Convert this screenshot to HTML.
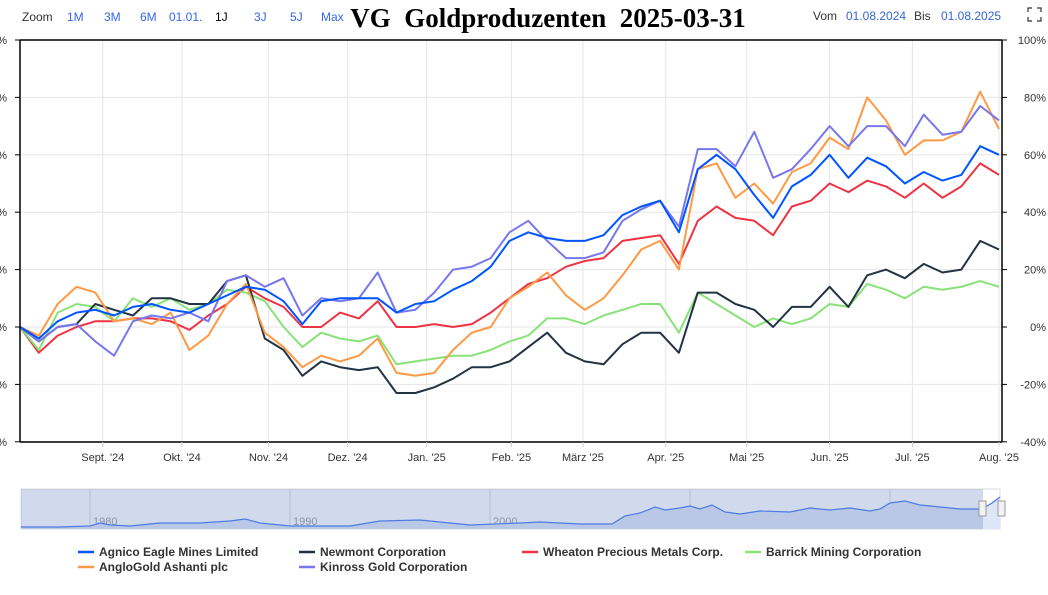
<!DOCTYPE html>
<html><head><meta charset="utf-8">
<style>
html,body{margin:0;padding:0;background:#fff;}
body{width:1048px;height:590px;overflow:hidden;position:relative;font-family:"Liberation Sans",sans-serif;}
svg text{font-family:"Liberation Sans",sans-serif;}
</style></head>
<body>
<svg id="chart" width="1048" height="590" xmlns="http://www.w3.org/2000/svg">
  <g id="toolbar">
    <text x="22" y="21" font-size="12" fill="#333">Zoom</text>
    <text x="67" y="21" font-size="12" fill="#3366ee">1M</text>
    <text x="104" y="21" font-size="12" fill="#3366ee">3M</text>
    <text x="140" y="21" font-size="12" fill="#3366ee">6M</text>
    <text x="169" y="21" font-size="12" fill="#3366ee">01.01.</text>
    <text x="215" y="21" font-size="12" fill="#000">1J</text>
    <text x="254" y="21" font-size="12" fill="#3366ee">3J</text>
    <text x="290" y="21" font-size="12" fill="#3366ee">5J</text>
    <text x="321" y="21" font-size="12" fill="#3366ee">Max</text>
    <text x="548" y="27" font-size="27" font-weight="bold" text-anchor="middle" fill="#000" style="font-family:'Liberation Serif',serif;">VG&#160;&#160;Goldproduzenten&#160;&#160;2025-03-31</text>
    <text x="813" y="20" font-size="12" fill="#333">Vom</text>
    <text x="846" y="20" font-size="12" fill="#3366cc">01.08.2024</text>
    <text x="914" y="20" font-size="12" fill="#333">Bis</text>
    <text x="941" y="20" font-size="12" fill="#3366cc">01.08.2025</text>
    <g stroke="#333" stroke-width="1.2" fill="none">
      <path d="M1028 12 V8 H1032 M1037 8 H1041 V12 M1041 17 V21 H1037 M1032 21 H1028 V17"/>
    </g>
  </g>
  <g id="grid"></g>
  <g id="series"></g>
  <g id="axes"></g>
  <g id="nav"></g>
  <g id="legend"></g>
</svg>
<script>
// ---- data ----
var weeks = [];
for (var w = 0; w <= 52; w++) weeks.push(w);
var agnico   = [0,-4,2,5,6,4,7,8,6,5,8,11,14,13,9,1,9,10,10,10,5,8,9,13,16,21,30,33,31,30,30,32,39,42,44,33,55,60,55,46,38,49,53,60,52,59,56,50,54,51,53,63,60];
var newmont  = [0,-5,0,1,8,6,4,10,10,8,8,16,18,-4,-8,-17,-12,-14,-15,-14,-23,-23,-21,-18,-14,-14,-12,-7,-2,-9,-12,-13,-6,-2,-2,-9,12,12,8,6,0,7,7,14,7,18,20,17,22,19,20,30,27];
var wheaton  = [0,-9,-3,0,2,2,3,3,2,-1,4,8,14,10,7,0,0,5,3,9,0,0,1,0,1,5,10,15,17,21,23,24,30,31,32,22,37,42,38,37,32,42,44,50,47,51,49,45,50,45,49,57,53];
var barrick  = [0,-8,5,8,7,2,10,7,10,6,8,13,12,9,0,-7,-2,-4,-5,-3,-13,-12,-11,-10,-10,-8,-5,-3,3,3,1,4,6,8,8,-2,12,8,4,0,3,1,3,8,7,15,13,10,14,13,14,16,14];
var anglogold= [0,-3,8,14,12,2,3,1,5,-8,-3,8,15,-2,-7,-14,-10,-12,-10,-4,-16,-17,-16,-8,-2,0,10,14,19,11,6,10,18,27,30,20,55,57,45,50,43,54,57,66,62,80,72,60,65,65,68,82,69];
var kinross  = [0,-5,0,1,-5,-10,2,4,3,5,2,16,18,14,17,4,10,9,10,19,5,6,12,20,21,24,33,37,30,24,24,26,37,41,44,35,62,62,56,68,52,55,62,70,63,70,70,63,74,67,68,77,72];
var seriesNames = ["Agnico Eagle Mines Limited","Newmont Corporation","Wheaton Precious Metals Corp.","Barrick Mining Corporation","AngloGold Ashanti plc","Kinross Gold Corporation"];
var yTicks = [100,80,60,40,20,0,-20,-40];
var monthLabels = ["Sept. '24","Okt. '24","Nov. '24","Dez. '24","Jan. '25","Feb. '25","März '25","Apr. '25","Mai '25","Jun. '25","Jul. '25","Aug. '25"];
var monthWeeks = [4.4,8.6,13.2,17.4,21.6,26.1,29.9,34.3,38.6,43.0,47.4,52];
var navYears = ["1980","1990","2000","2010","2020"];
var navYearPos = [1980,1990,2000,2010,2020];

var NS = "http://www.w3.org/2000/svg";
var L = 20, R = 1002, T = 40, B = 442;
function x(w){ return 20 + w * (979/52); }
function y(v){ return 327 - v * (287/100); }
function el(tag, attrs, parent){ var e = document.createElementNS(NS, tag); for (var k in attrs) e.setAttribute(k, attrs[k]); parent.appendChild(e); return e; }

var grid = document.getElementById('grid');
yTicks.forEach(function(t){
  var ln = el('line', {x1:L, x2:R, y1:y(t), y2:y(t), stroke:'#e6e6e6', 'stroke-width':1}, grid);
  
  
});
monthWeeks.forEach(function(m){
  var ln = el('line', {x1:x(m), x2:x(m), y1:T, y2:B, stroke:'#e6e6e6', 'stroke-width':1}, grid);
  
  
});

var sg = document.getElementById('series');
var data = [wheaton, barrick, newmont, anglogold, kinross, agnico];
var colors = ['#ee3344','#88e277','#223344','#ff9944','#7777ee','#0055ff'];
var snames = ['wheaton-line','barrick-line','newmont-line','anglogold-line','kinross-line','agnico-line'];
data.forEach(function(arr, i){
  var d = arr.map(function(v, j){ return (j ? 'L' : 'M') + x(weeks[j]).toFixed(1) + ' ' + y(v).toFixed(1); }).join(' ');
  var p = el('path', {d:d, fill:'none', stroke:colors[i], 'stroke-width':2, 'stroke-linejoin':'round'}, sg);
  
  
});

var ax = document.getElementById('axes');
el('line', {x1:L, x2:R, y1:T, y2:T, stroke:'#000', 'stroke-width':1.5}, ax);
el('line', {x1:L, x2:L, y1:T, y2:B, stroke:'#000', 'stroke-width':1.5}, ax);
el('line', {x1:R, x2:R, y1:T, y2:B, stroke:'#000', 'stroke-width':1.5}, ax);
el('line', {x1:L, x2:R, y1:B, y2:B, stroke:'#000', 'stroke-width':1.5}, ax);
yTicks.forEach(function(t){
  var tx = el('text', {x:1046, y:y(t)+4, 'font-size':11, 'text-anchor':'end', fill:'#333'}, ax);
  tx.textContent = t + '%';
  
  
  var tl = el('text', {x:7, y:y(t)+4, 'font-size':11, 'text-anchor':'end', fill:'#333'}, ax);
  tl.textContent = t + '%';
  
  
  el('line', {x1:L-5, x2:L, y1:y(t), y2:y(t), stroke:'#000'}, ax);
  el('line', {x1:R, x2:R+5, y1:y(t), y2:y(t), stroke:'#000'}, ax);
});
monthWeeks.forEach(function(m, i){
  el('line', {x1:x(m), x2:x(m), y1:B, y2:B+5, stroke:'#ccc'}, ax);
  var tx = el('text', {x:x(m), y:461, 'font-size':11, 'text-anchor':'middle', fill:'#333'}, ax);
  tx.textContent = monthLabels[i];
  
  
});

// navigator
var nav = document.getElementById('nav');
var NX0 = 21, NX1 = 1000, NY0 = 489, NY1 = 529;
function yearX(yr){ return 90 + (yr - 1980) * 20; }
el('rect', {x:NX0, y:NY0, width:NX1-NX0, height:NY1-NY0, fill:'#fff', stroke:'#ddd'}, nav);
navYearPos.forEach(function(yr, i){
  el('line', {x1:yearX(yr), x2:yearX(yr), y1:NY0, y2:NY1, stroke:'#d8d8d8'}, nav);
  var tx = el('text', {x:yearX(yr)+3, y:525, 'font-size':11, fill:'#999'}, nav);
  tx.textContent = navYears[i];
  
  
});
var navPts = [[21,527],[60,527],[90,526],[100,523],[110,525],[130,526],[160,523],[200,523],[230,521],[245,519],[260,523],[290,526],[350,526],[380,521],[420,520],[470,525],[520,523],[540,522],[580,524],[612,524],[625,516],[640,513],[655,507],[665,510],[680,508],[690,506],[700,509],[712,505],[725,512],[740,514],[760,511],[790,512],[810,508],[830,510],[850,508],[870,511],[880,509],[890,503],[905,501],[920,505],[940,507],[960,509],[982,509],[992,503],[1000,497]];
var nd = navPts.map(function(p,i){return (i?'L':'M')+p[0]+' '+p[1];}).join(' ');
el('path', {d:nd+' L1000 529 L21 529 Z', fill:'#dde6f7', stroke:'none'}, nav);
el('path', {d:nd, fill:'none', stroke:'#4477ee', 'stroke-width':1.2}, nav);
el('rect', {x:NX0, y:NY0, width:962, height:NY1-NY0, fill:'rgba(102,133,194,0.3)'}, nav);
var h1 = el('rect', {x:979, y:501, width:7, height:15, fill:'#f2f2f2', stroke:'#999'}, nav);


var h2 = el('rect', {x:998, y:501, width:7, height:15, fill:'#f2f2f2', stroke:'#999'}, nav);



// legend
var lg = document.getElementById('legend');
var legColors = ['#0055ff','#223344','#ee3344','#88e277','#ff9944','#7777ee'];
var legPos = [[78,553],[299,553],[522,553],[745,553],[78,568],[299,568]];
seriesNames.forEach(function(n, i){
  var g = el('g', {}, lg);
  
  
  el('line', {x1:legPos[i][0], x2:legPos[i][0]+16, y1:legPos[i][1]-1, y2:legPos[i][1]-1, stroke:legColors[i], 'stroke-width':2.5}, g);
  var t = el('text', {x:legPos[i][0]+21, y:legPos[i][1]+3, 'font-size':12, 'font-weight':'bold', fill:'#333'}, g);
  t.textContent = n;
});
</script>
</body></html>
